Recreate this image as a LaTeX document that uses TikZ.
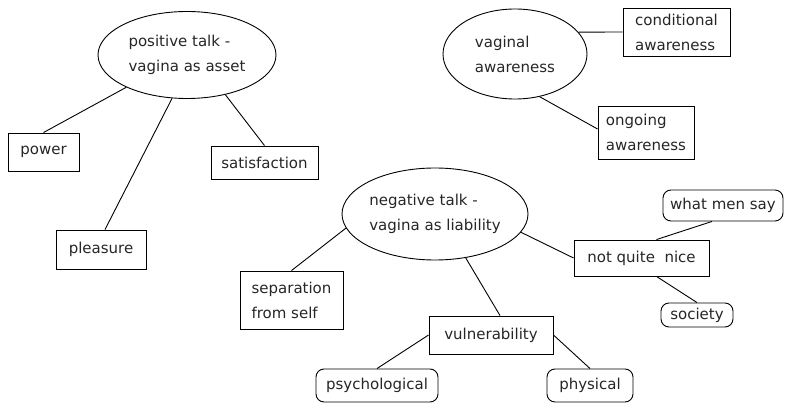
\documentclass[tikz,border=0pt]{standalone}
\usepackage{fontspec}
\setmainfont{DejaVu Sans}
\usetikzlibrary{shapes.geometric}
\begin{document}
\begin{tikzpicture}[x=1pt,y=-1pt,
  every node/.style={font=\fontsize{15}{25}\selectfont, text=black!85, inner sep=0pt, align=left},
  ell/.style={draw, ellipse, line width=0.9pt},
  sq/.style={draw, rectangle, line width=0.9pt},
  rnd/.style={draw, rectangle, rounded corners=8pt, line width=0.9pt},
  link/.style={line width=0.9pt}]
\useasboundingbox (0,0) rectangle (785,406);
% positive
\node[ell, minimum width=178pt, minimum height=87pt] (pos) at (187,55) {positive talk -\\vagina as asset};
\node[sq, minimum width=71pt, minimum height=38pt] (pow) at (43.5,152) {power};
\node[sq, minimum width=107pt, minimum height=33pt] (sat) at (264.5,162.5) {satisfaction};
\node[sq, minimum width=90pt, minimum height=39pt] (ple) at (101,249.5) {pleasure};
\draw[link] (pos.208) -- (pow.north);
\draw[link] (pos.251) -- ([xshift=4]ple.north);
\draw[link] (pos.314) -- (sat.north);
% vaginal awareness
\node[ell, minimum width=144pt, minimum height=90pt] (va) at (515,54) {vaginal\\awareness};
\node[sq, minimum width=107pt, minimum height=48pt] (cond) at (676.5,32) {conditional\\awareness};
\node[sq, minimum width=96pt, minimum height=53pt] (ong) at (646,132.5) {ongoing\\awareness};
\draw[link] (va.19) -- (cond.west);
\draw[link] (va.300) -- ([yshift=3.5]ong.west);
% negative
\node[ell, minimum width=186pt, minimum height=92pt] (neg) at (435,214) {negative talk -\\vagina as liability};
\node[sq, minimum width=103pt, minimum height=58pt] (sep) at (291.5,300) {separation\\from self};
\node[sq, minimum width=124pt, minimum height=38pt] (vul) at (491,335) {vulnerability};
\node[sq, minimum width=135pt, minimum height=36pt] (nqn) at (641.5,258) {not quite\ \ nice};
\node[rnd, minimum width=120pt, minimum height=31pt] (wms) at (723,205.5) {what men say};
\node[rnd, minimum width=72pt, minimum height=24pt] (soc) at (697,315) {society};
\node[rnd, minimum width=86pt, minimum height=33pt] (phy) at (590,385.5) {physical};
\node[rnd, minimum width=122pt, minimum height=33pt] (psy) at (377,385.5) {psychological};
\draw[link] (neg.189) -- (sep.north);
\draw[link] (neg.305) -- ([xshift=9]vul.north);
\draw[link] (neg.348) -- (nqn.west);
\draw[link] ([xshift=-11]wms.south) -- ([xshift=15]nqn.north);
\draw[link] ([xshift=15]nqn.south) -- (soc.north);
\draw[link] (vul.east) -- (phy.north);
\draw[link] (vul.west) -- (psy.north);
\end{tikzpicture}
\end{document}
